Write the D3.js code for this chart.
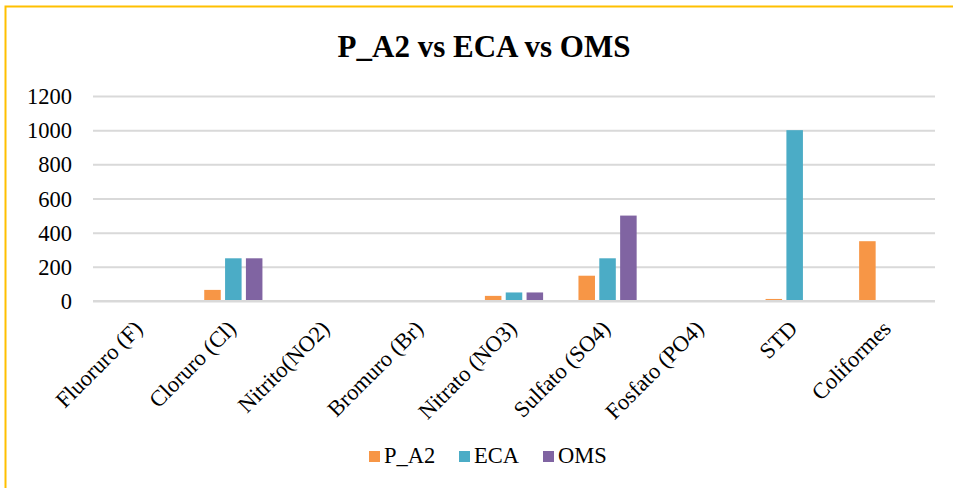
<!DOCTYPE html>
<html>
<head>
<meta charset="utf-8">
<script src="https://cdn.jsdelivr.net/npm/d3@7"></script>
<style>
  html, body { margin: 0; padding: 0; background: #fff; }
  svg { display: block; }
</style>
</head>
<body>
<svg id="chart" width="953" height="488"></svg>
<script>
const categories = ["Fluoruro (F)", "Cloruro (Cl)", "Nitrito(NO2)", "Bromuro (Br)", "Nitrato (NO3)", "Sulfato (SO4)", "Fosfato (PO4)", "STD", "Coliformes"];
const seriesNames = ["P_A2", "ECA", "OMS"];
const valuesP_A2 = [0.3, 65, 0.1, 0.2, 30, 148, 0.1, 12, 350];
const valuesECA = [1.5, 250, 3, 0, 50, 250, 0, 1000, 0];
const valuesOMS = [1.5, 250, 3, 0, 50, 500, 0, 0, 0];
const yTicks = [0, 200, 400, 600, 800, 1000, 1200];
const colors = ["#F79646", "#4BACC6", "#8064A2"];
const title = "P_A2 vs ECA vs OMS";

(function () {
const seriesValues = [valuesP_A2, valuesECA, valuesOMS];
const svg = d3.select("#chart");
const font = "'Liberation Serif', 'Times New Roman', serif";
const fs = 22.5;

// border
svg.append("rect").attr("x", 5.5).attr("y", 6.5).attr("width", 1000).attr("height", 600)
  .attr("fill", "none").attr("stroke", "#FFC000").attr("stroke-width", 2);

const pLeft = 93, pRight = 935, pTop = 96, pBottom = 301;
const x0 = d3.scaleBand().domain(categories).range([pLeft, pRight]).padding(0);
const groupW = 58.2;
const x1 = d3.scaleBand().domain(seriesNames)
  .range([x0.bandwidth() / 2 - groupW / 2, x0.bandwidth() / 2 + groupW / 2])
  .paddingInner(0.207).paddingOuter(0);
const y = d3.scaleLinear().domain([0, 1200]).range([pBottom, pTop]);

// title
svg.append("text").attr("x", 484).attr("y", 57).attr("text-anchor", "middle")
  .style("font-family", font).attr("font-weight", "bold").attr("font-size", 31)
  .attr("fill", "#000").text(title);

// gridlines
const yAxis = d3.axisLeft(y).tickValues(yTicks).tickSize(-(pRight - pLeft)).tickFormat(d3.format("d"));
const gy = svg.append("g").attr("transform", `translate(${pLeft},0)`).call(yAxis);
gy.attr("font-family", null).attr("font-size", null);
gy.select(".domain").remove();
gy.selectAll(".tick line").attr("stroke", "#D9D9D9").attr("stroke-width", 2);
gy.selectAll(".tick text").attr("x", -21).attr("dy", "0.34em")
  .style("font-family", font).attr("font-size", fs).attr("fill", "#000");

// bars
const data = [];
categories.forEach((c, i) => seriesNames.forEach((s, j) => data.push({ c, s, v: seriesValues[j][i], j })));
svg.append("g").selectAll("rect").data(data).join("rect")
  .attr("x", d => x0(d.c) + x1(d.s))
  .attr("y", d => y(d.v))
  .attr("width", x1.bandwidth())
  .attr("height", d => y(0) - y(d.v))
  .attr("fill", d => colors[d.j]);

// axis line
svg.append("line").attr("x1", pLeft).attr("x2", pRight).attr("y1", y(0)).attr("y2", y(0))
  .attr("stroke", "#D9D9D9").attr("stroke-width", 2);

// x labels
const xAxis = d3.axisBottom(x0).tickSize(0).tickPadding(0);
const gx = svg.append("g").attr("transform", `translate(0,${pBottom})`).call(xAxis);
gx.attr("font-family", null).attr("font-size", null);
gx.select(".domain").remove();
gx.selectAll(".tick text")
  .style("font-family", font).attr("font-size", fs).attr("fill", "#000")
  .attr("text-anchor", "end").attr("dy", 0).attr("y", 0)
  .attr("transform", "translate(4,29) rotate(-45)");

// legend
const legendX = [369, 459, 543];
const lg = svg.append("g");
seriesNames.forEach((s, j) => {
  lg.append("rect").attr("x", legendX[j]).attr("y", 451).attr("width", 11).attr("height", 11).attr("fill", colors[j]);
  lg.append("text").attr("x", legendX[j] + 15).attr("y", 463).style("font-family", font)
    .attr("font-size", fs).attr("fill", "#000").text(s);
});
})();
</script>
</body>
</html>
